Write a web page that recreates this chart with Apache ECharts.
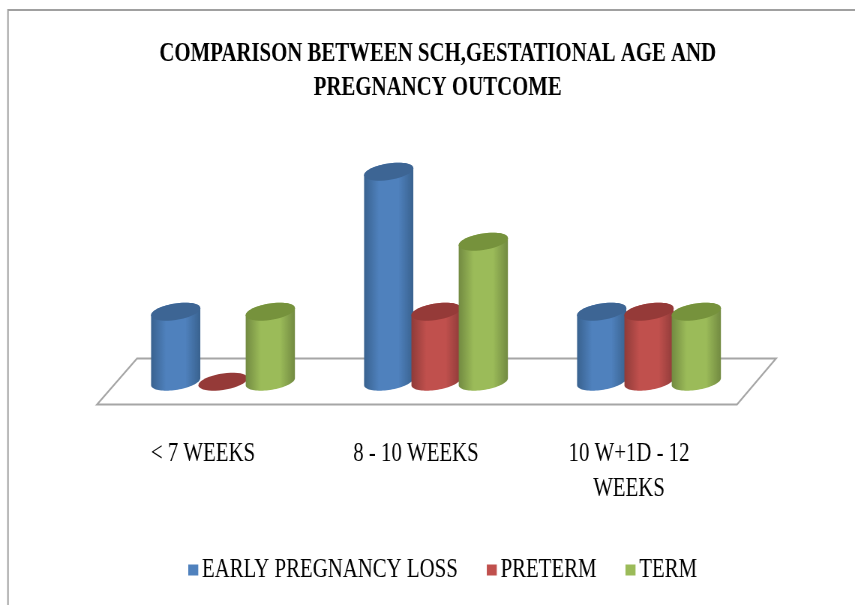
<!DOCTYPE html>
<html>
<head>
<meta charset="utf-8">
<title>SCH chart</title>
<script src="https://cdn.jsdelivr.net/npm/echarts@6/dist/echarts.min.js"></script>
<style>
    html, body { margin: 0; padding: 0; background: #fff; overflow: hidden; width: 855px; height: 605px; }
    /* the reference text is squeezed sideways, so the whole canvas is narrowed */
    #chart { width: 1140px; height: 605px; transform: scaleX(0.75); transform-origin: 0 0; }
</style>
</head>
<body>
<div id="chart"></div>
<script>
const squeeze = 0.75;
const titleText = 'COMPARISON BETWEEN SCH,GESTATIONAL AGE AND\nPREGNANCY OUTCOME';
const categories = ['< 7 WEEKS', '8 - 10 WEEKS', '10 W+1D - 12\nWEEKS'];
const seriesNames = ['EARLY PREGNANCY LOSS', 'PRETERM', 'TERM'];
const earlyLoss = [1, 3, 1];
const preterm = [0, 1, 1];
const term = [1, 2, 1];
const seriesValues = [earlyLoss, preterm, term];

const bodyColors = ['#4f81bd', '#c0504d', '#9bbb59'];
const edgeColors = ['#39628f', '#8f3b39', '#728a41'];
const topColors = ['#3d6594', '#953a38', '#76923c'];

// x 方向都按压缩前的坐标算
const sx = v => v / squeeze;
const barStep = sx(47.3);
const radiusX = sx(24.6);

// 圆柱椭圆上的一点 (剪切椭圆，左右边缘保持竖直)
function ellipsePoint(cx, cy, t) {
    return [
        cx + radiusX * Math.cos(t),
        cy + 8.3 * Math.sin(t) - 3.5 * Math.cos(t)
    ];
}

function ellipseArc(cx, cy, from, to) {
    const pts = [];
    for (let i = 0; i <= 40; i++) {
        pts.push(ellipsePoint(cx, cy, from + (to - from) * i / 40));
    }
    return pts;
}

function makeRenderItem(seriesIndex) {
    return function (params, api) {
        const base = api.coord([api.value(0), 0]);
        const tip = api.coord([api.value(0), api.value(1)]);
        const cx = base[0] + (seriesIndex - 1) * barStep;
        const children = [];
        if (tip[1] < base[1]) {
            // 柱身: 顶部后半圈 + 底部前半圈
            children.push({
                type: 'polygon',
                shape: {
                    points: ellipseArc(cx, tip[1], Math.PI, 2 * Math.PI)
                        .concat(ellipseArc(cx, base[1], 0, Math.PI))
                },
                style: {
                    fill: new echarts.graphic.LinearGradient(0, 0, 1, 0, [
                        { offset: 0, color: edgeColors[seriesIndex] },
                        { offset: 0.3, color: bodyColors[seriesIndex] },
                        { offset: 0.7, color: bodyColors[seriesIndex] },
                        { offset: 1, color: edgeColors[seriesIndex] }
                    ])
                }
            });
        }
        children.push({
            type: 'polygon',
            shape: { points: ellipseArc(cx, tip[1], 0, 2 * Math.PI) },
            style: { fill: topColors[seriesIndex] }
        });
        return { type: 'group', children: children };
    };
}

const chart = echarts.init(document.getElementById('chart'));

chart.setOption({
    animation: false,
    backgroundColor: '#ffffff',
    textStyle: { fontFamily: '"Liberation Serif"' },
    title: {
        text: titleText,
        left: sx(434),
        top: 32,
        textAlign: 'center',
        textStyle: {
            fontFamily: '"Liberation Serif"',
            fontSize: 27.75,
            fontWeight: 'bold',
            lineHeight: 34,
            color: '#000000'
        }
    },
    legend: {
        data: seriesNames,
        left: sx(184.5),
        top: 551,
        icon: 'rect',
        itemWidth: sx(10),
        itemHeight: 11,
        itemGap: sx(29),
        textStyle: {
            fontFamily: '"Liberation Serif"',
            fontSize: 27.75,
            color: '#000000'
        }
    },
    grid: {
        left: sx(116.5),
        width: sx(639),
        top: 171.7,
        height: 210
    },
    xAxis: {
        type: 'category',
        data: categories,
        axisLine: { show: false },
        axisTick: { show: false },
        axisLabel: {
            margin: 55,
            padding: [0, sx(40), 0, 0],
            fontFamily: '"Liberation Serif"',
            fontSize: 27.75,
            lineHeight: 35,
            color: '#000000'
        }
    },
    yAxis: {
        type: 'value',
        min: 0,
        max: 3,
        interval: 1,
        show: false
    },
    graphic: [
        {
            // 图表外框，只有上边和左边看得到
            type: 'polyline',
            z: 0,
            shape: { points: [[sx(8), 605], [sx(8), 10], [sx(855), 10]] },
            style: { stroke: '#a0a0a0', lineWidth: 2, fill: null }
        },
        {
            // 3D 底板
            type: 'polygon',
            z: 0,
            shape: { points: [[sx(97), 404.5], [sx(137), 358.5], [sx(776), 358.5], [sx(737), 404.5]] },
            style: { stroke: '#a6a6a6', lineWidth: 2, fill: '#ffffff' }
        }
    ],
    series: seriesNames.map((name, i) => ({
        name: name,
        type: 'custom',
        z: 2 + i,
        itemStyle: { color: bodyColors[i] },
        encode: { x: 0, y: 1 },
        data: seriesValues[i].map((v, j) => [j, v]),
        renderItem: makeRenderItem(i)
    }))
});
</script>
</body>
</html>
